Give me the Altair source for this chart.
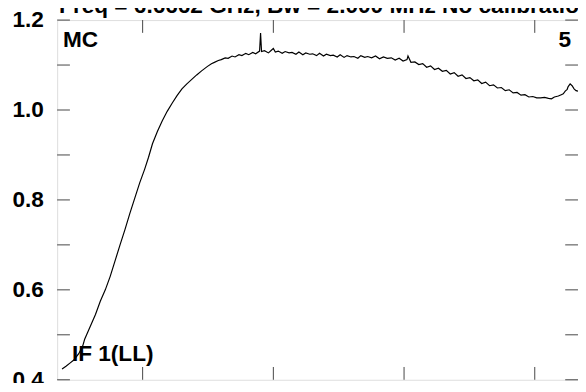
import altair as alt
import pandas as pd

# spectrum samples: channel (arbitrary units) and amplitude
channel = [5, 9, 13, 17, 22, 26, 28, 30, 34, 39, 44, 49, 54, 59, 64, 69, 74, 79, 84,
           89, 93, 97, 102, 107, 112, 117, 122, 127, 132, 137, 142, 147, 150, 153, 157,
           160, 164, 167, 171, 174, 178, 181, 185, 188, 192, 195, 199, 202, 206, 207,
           208, 211, 215, 218, 220, 222, 225, 229, 232, 236, 239, 243, 246, 250, 253,
           257, 260, 264, 267, 271, 274, 278, 281, 285, 288, 292, 295, 299, 302, 306,
           309, 313, 316, 320, 324, 328, 332, 336, 340, 344, 348, 352, 356, 357, 360,
           364, 368, 372, 376, 380, 384, 388, 392, 396, 400, 404, 408, 412, 416, 420,
           424, 428, 432, 436, 440, 444, 448, 452, 456, 460, 464, 468, 472, 476, 480,
           484, 488, 492, 496, 500, 503, 506, 510, 513, 515, 517, 519, 520, 522, 524,
           526, 528, 530]
amplitude = [0.424, 0.430, 0.437, 0.444, 0.458, 0.475, 0.490, 0.500, 0.520, 0.545,
             0.575, 0.600, 0.630, 0.665, 0.700, 0.734, 0.770, 0.804, 0.838, 0.868,
             0.895, 0.925, 0.952, 0.976, 0.997, 1.015, 1.032, 1.047, 1.058, 1.068,
             1.078, 1.087, 1.092, 1.097, 1.103, 1.106, 1.110, 1.112, 1.116, 1.115,
             1.120, 1.118, 1.123, 1.121, 1.126, 1.123, 1.128, 1.125, 1.131, 1.171,
             1.130, 1.132, 1.127, 1.133, 1.137, 1.129, 1.131, 1.126, 1.130, 1.127,
             1.128, 1.124, 1.129, 1.123, 1.127, 1.124, 1.125, 1.121, 1.126, 1.120,
             1.124, 1.121, 1.122, 1.118, 1.123, 1.117, 1.121, 1.118, 1.119, 1.115,
             1.121, 1.117, 1.119, 1.116, 1.120, 1.114, 1.118, 1.115, 1.116, 1.111,
             1.115, 1.109, 1.112, 1.120, 1.106, 1.107, 1.101, 1.103, 1.095, 1.098,
             1.090, 1.093, 1.086, 1.088, 1.080, 1.083, 1.075, 1.078, 1.070, 1.072,
             1.065, 1.067, 1.059, 1.062, 1.054, 1.056, 1.049, 1.050, 1.043, 1.045,
             1.038, 1.039, 1.033, 1.034, 1.029, 1.030, 1.027, 1.027, 1.028, 1.026,
             1.025, 1.029, 1.031, 1.034, 1.036, 1.042, 1.046, 1.052, 1.058, 1.054,
             1.047, 1.043, 1.042]

y_ticks = [0.4, 0.5, 0.6, 0.7, 0.8, 0.9, 1.0, 1.1, 1.2]
y_labels = [0.4, 0.6, 0.8, 1.0, 1.2]
x_ticks = [87, 220, 353, 486]

FONT = "Liberation Sans"
FS = 23
XS = alt.Scale(domain=[0, 530], nice=False, zero=False)
YS = alt.Scale(domain=[0.4, 1.2], nice=False, zero=False)
YAX = alt.Axis(values=y_labels, format=".1f", title=None, ticks=False, domain=False,
               grid=False, labelFont=FONT, labelFontSize=FS, labelFontWeight="bold",
               labelColor="black", labelPadding=14)

spec = pd.DataFrame({"x": channel, "y": amplitude})
yt = pd.DataFrame({"y": y_ticks})
xt = pd.DataFrame({"x": x_ticks})

line = alt.Chart(spec).mark_line(color="black", strokeWidth=1.2, clip=True).encode(
    x=alt.X("x:Q", scale=XS, axis=None),
    y=alt.Y("y:Q", scale=YS, axis=YAX),
)

ytl = alt.Chart(yt).mark_rule(color="#444444", strokeWidth=1).encode(
    y=alt.Y("y:Q", scale=YS, axis=YAX), x=alt.value(0), x2=alt.value(13))
ytr = alt.Chart(yt).mark_rule(color="#444444", strokeWidth=1).encode(
    y=alt.Y("y:Q", scale=YS, axis=YAX), x=alt.value(517), x2=alt.value(530))
xtt = alt.Chart(xt).mark_rule(color="#444444", strokeWidth=1).encode(
    x=alt.X("x:Q", scale=XS, axis=None), y=alt.value(0), y2=alt.value(13))
xtb = alt.Chart(xt).mark_rule(color="#444444", strokeWidth=1).encode(
    x=alt.X("x:Q", scale=XS, axis=None), y=alt.value(353), y2=alt.value(366))

def label(txt, x, y, align="left"):
    return alt.Chart(pd.DataFrame({"t": [txt]})).mark_text(
        font=FONT, fontSize=FS, fontWeight="bold", color="black", align=align,
        baseline="alphabetic", clip=False
    ).encode(text="t:N", x=alt.value(x), y=alt.value(y))

title = label("Freq = 6.6662 GHz, Bw = 2.000 MHz  No calibration", 2, -7)
mc = label("MC", 6, 27.5)
five = label("5", 523, 27.5, align="right")
iflab = label("IF 1(LL)", 15, 347)

chart = alt.layer(line, ytl, ytr, xtt, xtb, title, mc, five, iflab).properties(
    width=530, height=366,
    autosize=alt.AutoSizeParams(type="none"),
    padding={"left": 50, "top": 9, "right": 0, "bottom": 0},
).configure_view(stroke="black", strokeWidth=1).configure(background="white")

chart.save("out.html", embed_options={"renderer": "svg", "actions": False})
